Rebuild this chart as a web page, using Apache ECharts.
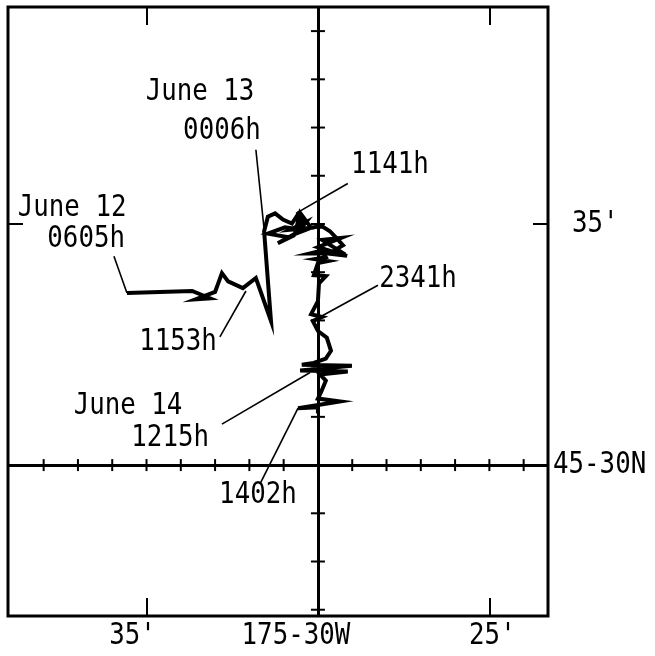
<!DOCTYPE html>
<html>
<head>
<meta charset="utf-8">
<script src="https://cdn.jsdelivr.net/npm/echarts@6/dist/echarts.min.js"></script>
<style>
  html, body { margin: 0; padding: 0; background: #fff; }
  #chart { width: 655px; height: 656px; }
</style>
</head>
<body>
<div id="chart"></div>
<script>
// Drift track: longitude in minutes west of 175°, latitude in minutes north of 45°
const trackLon = [35.57, 33.67, 33.15, 33.56, 33.00, 32.80, 32.62, 32.19, 31.81, 31.37,
                  31.57, 31.46, 31.25, 31.02, 30.76, 30.58, 30.44, 30.58, 30.96, 31.46,
                  30.82, 31.17, 30.67, 30.52, 30.20, 30.82, 30.35, 30.61, 30.17, 29.88,
                  29.65, 29.48, 29.27, 29.48, 29.21, 29.88, 29.33, 30.00, 29.15, 29.71,
                  30.23, 29.88, 29.77, 30.09, 29.71, 30.00, 30.12, 29.77, 29.97, 30.00,
                  30.20, 29.88, 30.15, 30.00, 29.74, 29.62, 29.77, 30.12, 30.47, 29.01,
                  30.52, 29.13, 29.94, 29.77, 29.91, 30.00, 29.36, 30.58, 30.00, 30.00];
const trackLat = [33.57, 33.61, 33.46, 33.44, 33.59, 33.98, 33.81, 33.67, 33.88, 32.99,
                  34.85, 35.15, 35.22, 35.09, 35.01, 35.20, 35.09, 34.89, 34.93, 34.80,
                  34.72, 34.60, 34.80, 35.23, 34.92, 34.88, 35.04, 34.81, 34.93, 34.95,
                  34.85, 34.72, 34.56, 34.47, 34.37, 34.67, 34.71, 34.52, 34.34, 34.39,
                  34.39, 34.45, 34.31, 34.27, 34.23, 34.19, 33.94, 33.92, 33.77, 33.40,
                  33.13, 33.07, 32.99, 32.78, 32.64, 32.37, 32.21, 32.12, 32.08, 32.06,
                  31.96, 31.94, 31.88, 31.75, 31.51, 31.38, 31.32, 31.18, 31.20, 31.07];

// Time annotations: text and anchor position (lon W, lat N)
const noteText = ['June 13', '0006h', '1141h', 'June 12', '0605h', '2341h', '1153h', 'June 14', '1215h', '1402h'];
const noteLon  = [33.44, 32.80, 27.90, 37.17, 36.76, 27.08, 34.08, 35.54, 34.31, 31.75];
const noteLat  = [37.74, 36.93, 36.22, 35.33, 34.69, 33.86, 32.55, 31.22, 30.56, 29.38];

// Leader lines from annotations to the track
const leaderFromLon = [31.81, 29.13, 35.95, 28.25, 32.86, 32.80, 31.69];
const leaderFromLat = [36.54, 35.84, 34.33, 33.73, 32.66, 30.85, 29.61];
const leaderToLon   = [31.57, 30.64, 35.57, 29.94, 32.10, 30.23, 30.58];
const leaderToLat   = [34.89, 35.22, 33.57, 33.07, 33.61, 31.92, 31.18];

// Axis ticks and labels
const lonLabelValues = [35, 30, 25];
const lonLabels = ["35'", '175-30W', "25'"];
const latLabelValues = [35, 30];
const latLabels = ["35'", '45-30N'];
const edgeTickLon = [35, 25];
const edgeTickLat = [35];
const crossTickLon = [24, 25, 26, 27, 28, 29, 31, 32, 33, 34, 35, 36, 37, 38];
const crossTickLat = [27, 28, 29, 31, 32, 33, 34, 35, 36, 37, 38, 39];
const originLon = 30;
const originLat = 30;

// Styling / layout
const FONT = '30px "DejaVu Sans Mono", "Liberation Mono", monospace';
const TEXT_SCALE_X = 0.86;
const INK = '#000';
const lonLabelShift = [-14, -22, 3];   // px nudges of the bottom labels
const latLabelShift = [24, 5];         // px gap of the right labels from the frame

const chart = echarts.init(document.getElementById('chart'), null, { renderer: 'canvas' });

const lonRange = { min: 23.29, max: 39.04 };
const latRange = { min: 26.87, max: 39.50 };

function textEl(x, y, text, align) {
  return {
    type: 'text',
    x: x, y: y,
    scaleX: TEXT_SCALE_X,
    style: { x: 0, y: 0, text: text, fill: INK, font: FONT, align: align, verticalAlign: 'middle' }
  };
}

const series = [];

// Track line, plus the reference meridian and parallel
series.push({
  type: 'line',
  data: trackLon.map((v, i) => [v, trackLat[i]]),
  showSymbol: false,
  silent: true,
  z: 5,
  lineStyle: { color: INK, width: 4, join: 'miter' },
  markLine: {
    silent: true,
    symbol: 'none',
    label: { show: false },
    lineStyle: { color: INK, width: 3, type: 'solid' },
    data: [{ xAxis: originLon }, { yAxis: originLat }]
  }
});

// Leader lines
leaderFromLon.forEach((v, i) => {
  series.push({
    type: 'line',
    data: [[v, leaderFromLat[i]], [leaderToLon[i], leaderToLat[i]]],
    showSymbol: false,
    silent: true,
    z: 4,
    lineStyle: { color: INK, width: 1.6 }
  });
});

// Small cross ticks along the reference lines
const crossData = crossTickLon.map(v => [v, originLat, 0]).concat(crossTickLat.map(v => [originLon, v, 1]));
series.push({
  type: 'custom',
  silent: true,
  z: 6,
  data: crossData,
  renderItem: (params, api) => {
    const p = api.coord([api.value(0), api.value(1)]);
    const shape = api.value(2) === 0
      ? { x1: p[0], y1: p[1] - 6, x2: p[0], y2: p[1] + 6 }
      : { x1: p[0] - 7, y1: p[1], x2: p[0] + 7, y2: p[1] };
    return { type: 'line', shape, style: { stroke: INK, lineWidth: 2 } };
  }
});

// Time annotations
series.push({
  type: 'custom',
  silent: true,
  z: 7,
  data: noteLon.map((v, i) => [v, noteLat[i], i]),
  renderItem: (params, api) => {
    const p = api.coord([api.value(0), api.value(1)]);
    return textEl(p[0], p[1], noteText[api.value(2)], 'center');
  }
});

// Longitude labels under the frame
series.push({
  type: 'custom',
  silent: true,
  z: 7,
  data: lonLabelValues.map((v, i) => [v, latRange.min, i]),
  renderItem: (params, api) => {
    const i = api.value(2);
    const p = api.coord([api.value(0), api.value(1)]);
    return textEl(p[0] + lonLabelShift[i], p[1] + 20, lonLabels[i], 'center');
  }
});

// Latitude labels right of the frame
series.push({
  type: 'custom',
  silent: true,
  z: 7,
  data: latLabelValues.map((v, i) => [lonRange.min, v, i]),
  renderItem: (params, api) => {
    const i = api.value(2);
    const p = api.coord([api.value(0), api.value(1)]);
    return textEl(p[0] + latLabelShift[i], p[1], latLabels[i], 'left');
  }
});

function edgeAxis(kind, position) {
  const isLon = kind === 'x';
  return {
    type: 'value', position: position, inverse: isLon,
    min: isLon ? lonRange.min : latRange.min,
    max: isLon ? lonRange.max : latRange.max,
    axisLine: { show: false },
    splitLine: { show: false },
    axisLabel: { show: false },
    axisTick: {
      show: true, inside: true, length: isLon ? 18 : 15,
      customValues: isLon ? edgeTickLon : edgeTickLat,
      lineStyle: { color: INK, width: 2 }
    }
  };
}

chart.setOption({
  animation: false,
  backgroundColor: '#fff',
  grid: {
    left: 8, right: 107, top: 7, bottom: 40,
    show: true, borderColor: INK, borderWidth: 3, backgroundColor: 'transparent'
  },
  xAxis: [edgeAxis('x', 'bottom'), edgeAxis('x', 'top')],
  yAxis: [edgeAxis('y', 'left'), edgeAxis('y', 'right')],
  series: series
});
</script>
</body>
</html>
